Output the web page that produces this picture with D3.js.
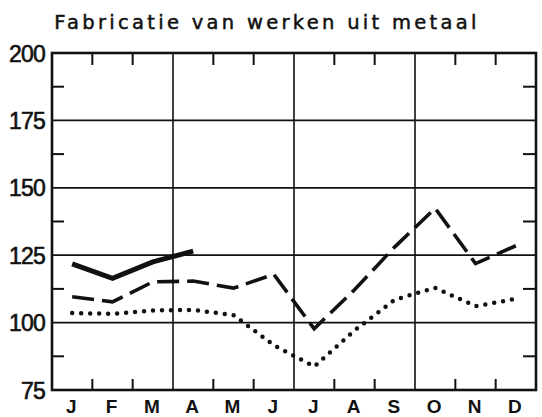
<!DOCTYPE html>
<html>
<head>
<meta charset="utf-8">
<script src="https://cdn.jsdelivr.net/npm/d3@7"></script>
<style>
  body { margin: 0; background: #fff; }
  text { fill: #111; }
</style>
</head>
<body>
<svg width="542" height="417"></svg>
<script>
// data
var months = ['J', 'F', 'M', 'A', 'M', 'J', 'J', 'A', 'S', 'O', 'N', 'D'];
var yTicks = [75, 100, 125, 150, 175, 200];
var minorY = [87.5, 112.5, 137.5, 162.5, 187.5];
var solidValues = [121.8, 116.4, 122.5, 126.5];
var dashedValues = [109.6, 107.7, 115.1, 115.4, 112.8, 117.9, 97.7, 112.2, 128.1, 142.4, 121.9, 128.5];
var dottedValues = [103.6, 103.2, 104.5, 104.7, 102.8, 91.6, 83.7, 97.1, 108.5, 112.9, 106.1, 108.8];

var svg = d3.select('svg');
var margin = {t: 53, r: 6, b: 27, l: 52};
var width = 542 - margin.l - margin.r;
var height = 417 - margin.t - margin.b;

var g = svg.append('g').attr('transform', 'translate(' + [margin.l, margin.t] + ')');

var xScale = d3.scaleLinear().domain([0, 12]).range([0, width]);
var yScale = d3.scaleLinear().domain([75, 200]).range([height, 0]);

// horizontal grid lines every 25
g.selectAll('.h-grid')
    .data(yTicks)
    .enter().append('line')
    .attr('class', 'h-grid')
    .attr('x1', 0).attr('x2', width)
    .attr('y1', d => yScale(d)).attr('y2', d => yScale(d))
    .attr('stroke', '#111').attr('stroke-width', 1.8);

// vertical grid lines at the quarters
g.selectAll('.v-grid')
    .data([3, 6, 9])
    .enter().append('line')
    .attr('class', 'v-grid')
    .attr('x1', d => xScale(d)).attr('x2', d => xScale(d))
    .attr('y1', 0).attr('y2', height)
    .attr('stroke', '#111').attr('stroke-width', 1.6);

// short month ticks on the top and bottom edges
var minorX = d3.range(1, 12).filter(d => d % 3 !== 0);
g.selectAll('.x-tick-top')
    .data(minorX)
    .enter().append('line')
    .attr('x1', d => xScale(d)).attr('x2', d => xScale(d))
    .attr('y1', 0).attr('y2', 12)
    .attr('stroke', '#111').attr('stroke-width', 2);
g.selectAll('.x-tick-bottom')
    .data(minorX)
    .enter().append('line')
    .attr('x1', d => xScale(d)).attr('x2', d => xScale(d))
    .attr('y1', height).attr('y2', height - 11)
    .attr('stroke', '#111').attr('stroke-width', 2);

// short ticks between the 25 steps on the left and right
g.selectAll('.y-tick-left')
    .data(minorY)
    .enter().append('line')
    .attr('x1', 0).attr('x2', 12)
    .attr('y1', d => yScale(d)).attr('y2', d => yScale(d))
    .attr('stroke', '#111').attr('stroke-width', 2);
g.selectAll('.y-tick-right')
    .data(minorY)
    .enter().append('line')
    .attr('x1', width).attr('x2', width - 13)
    .attr('y1', d => yScale(d)).attr('y2', d => yScale(d))
    .attr('stroke', '#111').attr('stroke-width', 2);

// frame
g.append('rect')
    .attr('width', width)
    .attr('height', height)
    .attr('fill', 'none')
    .attr('stroke', '#111')
    .attr('stroke-width', 2.6);

// y labels
g.selectAll('.y-label')
    .data(yTicks)
    .enter().append('text')
    .attr('class', 'y-label')
    .attr('x', -7)
    .attr('y', d => yScale(d) + 8.5)
    .attr('text-anchor', 'end')
    .attr('font-size', 23)
    .style('font-family', "'Liberation Sans', Arial, sans-serif")
    .style('letter-spacing', '-0.8px')
    .attr('stroke', '#111').attr('stroke-width', 0.6)
    .text(d => d);

// month labels
g.selectAll('.m-label')
    .data(months)
    .enter().append('text')
    .attr('class', 'm-label')
    .attr('x', (d, i) => xScale(i + 0.5) - 1)
    .attr('y', height + 22.5)
    .attr('text-anchor', 'middle')
    .attr('font-size', 19)
    .attr('font-weight', 'bold')
    .style('font-family', "'Liberation Sans', Arial, sans-serif")
    .text(d => d);

// title
svg.append('text')
    .attr('x', 267)
    .attr('y', 29)
    .attr('text-anchor', 'middle')
    .attr('font-size', 19.5)
    .style('font-family', "'DejaVu Sans', sans-serif")
    .style('letter-spacing', '3.3px')
    .attr('stroke', '#111').attr('stroke-width', 0.5)
    .text('Fabricatie van werken uit metaal');

var line = d3.line().x((d, i) => xScale(i + 0.5)).y(d => yScale(d));

g.append('path')
    .datum(dottedValues)
    .attr('d', line)
    .attr('fill', 'none')
    .attr('stroke', '#111')
    .attr('stroke-width', 4.5)
    .attr('stroke-linecap', 'round')
    .attr('stroke-dasharray', '0,9');

g.append('path')
    .datum(dashedValues)
    .attr('d', line)
    .attr('fill', 'none')
    .attr('stroke', '#111')
    .attr('stroke-width', 3.6)
    .attr('stroke-dasharray', '22,8');

g.append('path')
    .datum(solidValues)
    .attr('d', line)
    .attr('fill', 'none')
    .attr('stroke', '#111')
    .attr('stroke-width', 5);
</script>
</body>
</html>
